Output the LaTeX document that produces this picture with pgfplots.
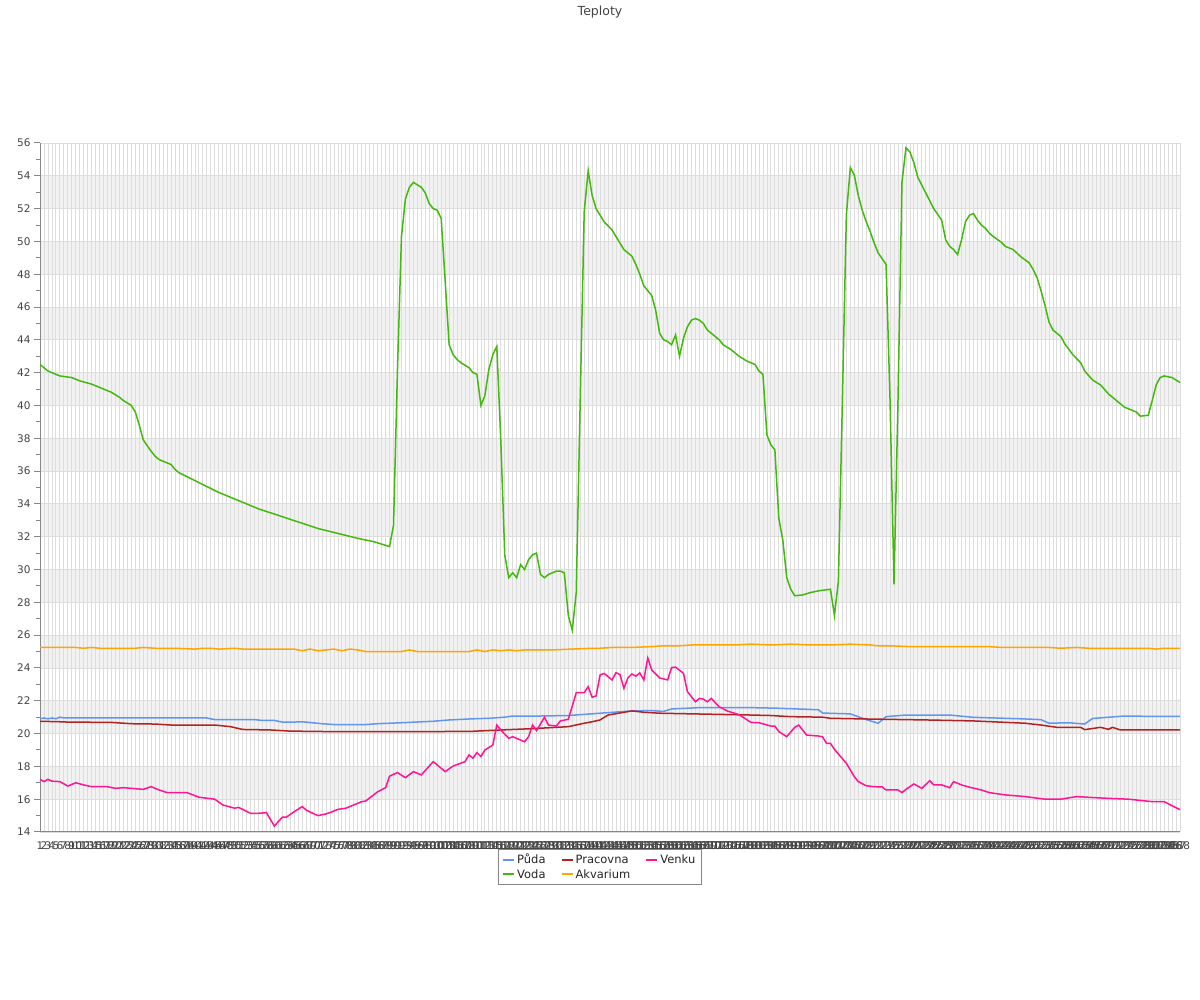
\documentclass[border=0pt]{standalone}
\usepackage{pgfplots}
\pgfplotsset{compat=1.18}
\usepackage{fontspec}
\setmainfont{DejaVu Sans}
\definecolor{cPuda}{HTML}{6495ED}
\definecolor{cVoda}{HTML}{44B80C}
\definecolor{cPrac}{HTML}{B22222}
\definecolor{cAkv}{HTML}{FFA500}
\definecolor{cVenku}{HTML}{FF1493}
\definecolor{gridc}{HTML}{DDDDDD}
\definecolor{bandc}{HTML}{F2F2F2}
\definecolor{txt}{HTML}{444444}
\definecolor{axc}{HTML}{888888}
\begin{document}
\begin{tikzpicture}[x=1pt,y=1pt]
\begin{axis}[
  at={(0,0)}, anchor=south west,
  scale only axis, width=1140pt, height=689pt,
  xmin=1, xmax=288, ymin=14, ymax=56,
  set layers,
  axis lines*=left,
  axis line style={axc, line width=1pt},
  xtick={1,...,288},
  ytick={14,16,...,56},
  minor ytick={15,17,...,55},
  xmajorgrids, ymajorgrids,
  grid style={gridc, line width=0.8pt},
  tick align=outside,
  major tick length=6pt, minor tick length=4pt,
  ytick style={axc, line width=1pt},
  xtick style={draw=none},
  tick label style={font=\fontsize{10.5}{12}\selectfont, text=txt},
  /pgf/number format/assume math mode=true,
  /pgf/number format/1000 sep={},
  legend columns=3,
  legend style={at={(0.491,-0.025)}, anchor=north, draw=axc, line width=0.8pt,
    font=\fontsize{11.5}{13}\selectfont, text=black!85, inner xsep=4pt, inner ysep=2.5pt,
    /tikz/every even column/.append style={column sep=13pt}},
  legend cell align=left,
  legend image code/.code={\draw[#1, line width=2pt] (0pt,0pt) -- (11pt,0pt);},
  every axis plot/.append style={line width=1.5pt, mark=none},
]
\begin{pgfonlayer}{axis background}
\fill[bandc] (axis cs:1,16) rectangle (axis cs:288,18);
\fill[bandc] (axis cs:1,20) rectangle (axis cs:288,22);
\fill[bandc] (axis cs:1,24) rectangle (axis cs:288,26);
\fill[bandc] (axis cs:1,28) rectangle (axis cs:288,30);
\fill[bandc] (axis cs:1,32) rectangle (axis cs:288,34);
\fill[bandc] (axis cs:1,36) rectangle (axis cs:288,38);
\fill[bandc] (axis cs:1,40) rectangle (axis cs:288,42);
\fill[bandc] (axis cs:1,44) rectangle (axis cs:288,46);
\fill[bandc] (axis cs:1,48) rectangle (axis cs:288,50);
\fill[bandc] (axis cs:1,52) rectangle (axis cs:288,54);
\end{pgfonlayer}

% Puda
\addplot[cPuda] coordinates {(1,20.9)(2,20.95)(3,20.9)(4,20.95)(5,20.9)(6,21.0)(7,20.95)(20,20.95)(30,20.95)(43,20.95)(45,20.85)(55,20.85)(57,20.8)(60,20.8)(62,20.7)(65,20.7)(67,20.72)(70,20.65)(72,20.6)(75,20.55)(83,20.55)(86,20.6)(92,20.66)(100,20.75)(104,20.83)(110,20.9)(114,20.93)(118,21.0)(120,21.07)(127,21.07)(134,21.1)(142,21.24)(150,21.38)(155,21.4)(158,21.35)(160,21.5)(167,21.58)(180,21.58)(186,21.55)(194,21.48)(197,21.45)(198,21.25)(205,21.2)(209,20.85)(212,20.63)(214,21.03)(219,21.13)(230,21.13)(236,20.99)(248,20.9)(253,20.85)(255,20.63)(260,20.66)(264,20.58)(266,20.92)(274,21.07)(280,21.05)(288,21.05)};
\addlegendentry{Půda}

% Pracovna
\addplot[cPrac] coordinates {(1,20.75)(6,20.72)(8,20.7)(19,20.68)(24,20.6)(30,20.58)(34,20.52)(45,20.52)(49,20.42)(52,20.25)(59,20.22)(64,20.15)(74,20.12)(90,20.12)(100,20.12)(110,20.14)(117,20.22)(125,20.3)(134,20.42)(138,20.63)(140,20.72)(142,20.83)(144,21.13)(150,21.38)(153,21.3)(157,21.24)(180,21.13)(185,21.1)(190,21.03)(198,21.0)(200,20.93)(211,20.88)(224,20.83)(236,20.77)(249,20.63)(253,20.52)(257,20.38)(263,20.38)(264,20.24)(268,20.38)(270,20.26)(271,20.38)(273,20.22)(288,20.22)};
\addlegendentry{Pracovna}

% Venku
\addplot[cVenku] coordinates {(1,17.21)(2,17.07)(3,17.21)(4,17.1)(6,17.07)(8,16.8)(10,17.0)(12,16.87)(14,16.76)(18,16.76)(20,16.66)(22,16.7)(27,16.6)(29,16.76)(31,16.56)(33,16.4)(38,16.4)(41,16.12)(45,16.0)(47,15.65)(50,15.45)(51,15.5)(54,15.14)(56,15.14)(58,15.18)(60,14.36)(62,14.9)(63,14.9)(65,15.24)(67,15.55)(68,15.34)(70,15.1)(71,15.0)(73,15.1)(74,15.18)(76,15.38)(78,15.45)(82,15.85)(83,15.89)(86,16.45)(88,16.7)(89,17.4)(90,17.52)(91,17.62)(93,17.31)(95,17.68)(97,17.48)(100,18.29)(103,17.68)(105,18.02)(108,18.29)(109,18.7)(110,18.5)(111,18.84)(112,18.6)(113,19.0)(115,19.3)(116,20.52)(117,20.22)(119,19.71)(120,19.81)(123,19.5)(124,19.81)(125,20.52)(126,20.18)(128,20.99)(129,20.52)(131,20.46)(132,20.77)(134,20.87)(136,22.49)(138,22.49)(139,22.86)(140,22.21)(141,22.3)(142,23.57)(143,23.67)(145,23.27)(146,23.71)(147,23.6)(148,22.76)(149,23.39)(150,23.63)(151,23.5)(152,23.7)(153,23.27)(154,24.6)(155,23.88)(157,23.39)(159,23.27)(160,24.02)(161,24.05)(163,23.67)(164,22.55)(166,21.94)(167,22.14)(168,22.1)(169,21.94)(170,22.14)(172,21.63)(174,21.38)(177,21.15)(180,20.68)(182,20.66)(185,20.46)(186,20.45)(187,20.12)(189,19.81)(191,20.38)(192,20.52)(194,19.91)(197,19.85)(198,19.8)(199,19.41)(200,19.4)(201,19.04)(202,18.75)(204,18.19)(206,17.37)(207,17.07)(209,16.82)(211,16.76)(213,16.75)(214,16.56)(217,16.56)(218,16.4)(219,16.6)(221,16.93)(223,16.66)(225,17.13)(226,16.87)(228,16.87)(230,16.7)(231,17.07)(233,16.87)(235,16.73)(238,16.56)(240,16.4)(244,16.26)(249,16.16)(254,16.0)(258,16.0)(262,16.16)(266,16.1)(270,16.05)(275,16.0)(281,15.85)(284,15.85)(286,15.6)(288,15.36)};
\addlegendentry{Venku}

% Voda
\addplot[cVoda] coordinates {(1,42.5)(3,42.1)(5,41.9)(6,41.8)(9,41.7)(11,41.5)(14,41.3)(16,41.1)(19,40.8)(21,40.5)(22,40.3)(24,40.0)(25,39.6)(26,38.8)(27,37.9)(29,37.2)(30,36.9)(31,36.7)(33,36.5)(34,36.4)(35,36.1)(36,35.9)(41,35.3)(46,34.7)(51,34.2)(56,33.7)(61,33.3)(66,32.9)(71,32.5)(76,32.2)(81,31.9)(85,31.7)(89,31.4)(90,32.7)(91,42.2)(92,50.3)(93,52.6)(94,53.3)(95,53.6)(97,53.3)(98,52.95)(99,52.3)(100,52.0)(101,51.9)(102,51.4)(103,47.6)(104,43.7)(105,43.1)(106,42.8)(107,42.6)(109,42.3)(110,42.0)(111,41.9)(112,40.0)(113,40.6)(114,42.2)(115,43.1)(116,43.6)(117,37.9)(118,30.9)(119,29.5)(120,29.8)(121,29.5)(122,30.3)(123,30.0)(124,30.6)(125,30.9)(126,31.0)(127,29.7)(128,29.5)(129,29.7)(130,29.8)(131,29.9)(132,29.9)(133,29.8)(134,27.2)(135,26.3)(136,28.6)(137,40.3)(138,51.8)(139,54.3)(140,52.8)(141,52.0)(142,51.6)(143,51.2)(145,50.7)(146,50.3)(147,49.9)(148,49.5)(150,49.1)(151,48.6)(152,48.0)(153,47.3)(155,46.7)(156,45.8)(157,44.4)(158,44.0)(159,43.9)(160,43.7)(161,44.3)(162,43.0)(163,44.1)(164,44.8)(165,45.2)(166,45.3)(167,45.2)(168,45.0)(169,44.6)(171,44.2)(172,44.0)(173,43.7)(175,43.4)(177,43.0)(179,42.7)(181,42.5)(182,42.1)(183,41.9)(184,38.2)(185,37.6)(186,37.3)(187,33.1)(188,31.8)(189,29.5)(190,28.8)(191,28.4)(193,28.45)(195,28.6)(197,28.7)(200,28.8)(201,27.2)(202,29.3)(203,40.3)(204,51.6)(205,54.5)(206,54.05)(207,52.8)(208,51.9)(209,51.2)(210,50.6)(211,49.9)(212,49.3)(214,48.6)(215,40.3)(216,29.1)(217,40.3)(218,53.6)(219,55.7)(220,55.45)(221,54.8)(222,53.9)(224,52.95)(226,52.0)(228,51.3)(229,50.1)(230,49.7)(231,49.5)(232,49.2)(233,50.1)(234,51.2)(235,51.6)(236,51.7)(237,51.3)(238,51.0)(239,50.8)(240,50.5)(241,50.3)(243,49.95)(244,49.7)(246,49.5)(248,49.05)(250,48.7)(251,48.3)(252,47.8)(253,47.0)(254,46.1)(255,45.1)(256,44.6)(258,44.2)(259,43.75)(261,43.1)(263,42.6)(264,42.1)(266,41.55)(268,41.25)(270,40.7)(272,40.3)(274,39.9)(277,39.6)(278,39.35)(280,39.4)(281,40.3)(282,41.25)(283,41.7)(284,41.8)(286,41.7)(288,41.4)};
\addlegendentry{Voda}

% Akvarium
\addplot[cAkv] coordinates {(1,25.25)(10,25.25)(12,25.2)(14,25.25)(16,25.2)(20,25.2)(25,25.2)(27,25.25)(30,25.2)(35,25.2)(40,25.15)(42,25.2)(44,25.2)(46,25.15)(50,25.2)(52,25.15)(55,25.15)(60,25.15)(63,25.15)(65,25.15)(67,25.05)(69,25.15)(71,25.05)(73,25.1)(75,25.15)(77,25.05)(79,25.15)(81,25.1)(83,25.0)(88,25.0)(92,25.0)(94,25.1)(96,25.0)(100,25.0)(105,25.0)(109,25.0)(111,25.1)(113,25.0)(115,25.1)(117,25.05)(119,25.1)(121,25.05)(123,25.1)(125,25.1)(128,25.1)(130,25.1)(135,25.15)(140,25.2)(142,25.2)(145,25.25)(150,25.25)(155,25.3)(158,25.35)(162,25.35)(165,25.4)(170,25.4)(176,25.4)(180,25.45)(185,25.4)(190,25.45)(195,25.4)(200,25.4)(205,25.45)(210,25.4)(212,25.35)(215,25.35)(220,25.3)(230,25.3)(240,25.3)(243,25.25)(250,25.25)(255,25.25)(258,25.2)(262,25.25)(265,25.2)(270,25.2)(280,25.2)(282,25.15)(284,25.2)(288,25.2)};
\addlegendentry{Akvarium}
\end{axis}
\node[text=txt, font=\fontsize{12.5}{14}\selectfont] at (560,820) {Teploty};
\path (-40,-168) rectangle (1160,832);
\end{tikzpicture}
\end{document}
